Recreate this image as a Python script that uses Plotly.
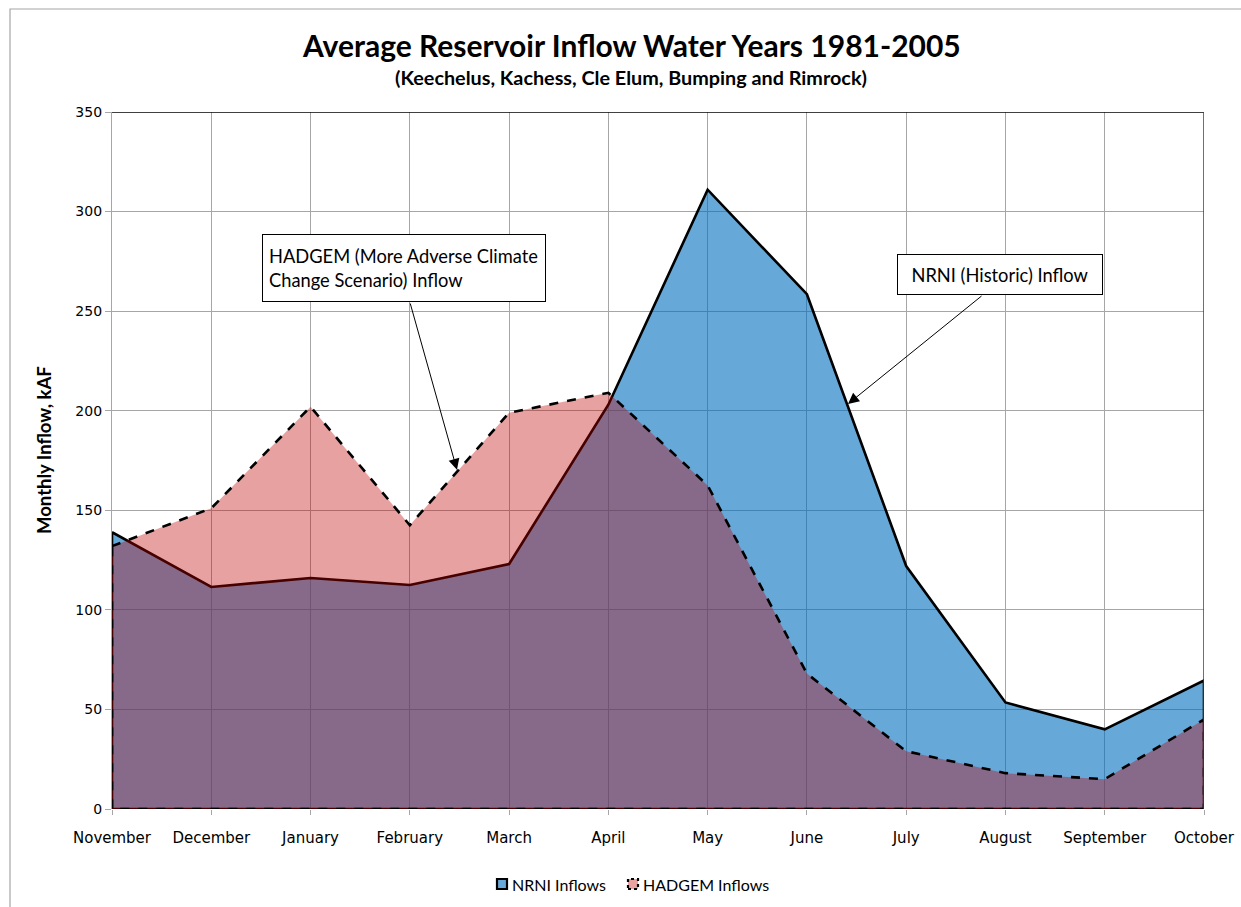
import plotly.graph_objects as go

# Monthly average inflow, water years 1981-2005 (kAF)
months = ["November", "December", "January", "February", "March", "April",
          "May", "June", "July", "August", "September", "October"]
nrni_inflows = [139, 111.5, 116, 112.5, 123, 203, 311, 258.5, 122, 53.5, 40, 64.5]
hadgem_inflows = [132, 151, 202, 142.5, 199, 209, 162.5, 68, 29, 18, 15, 45]

series_names = ["NRNI Inflows", "HADGEM Inflows"]
y_ticks = [0, 50, 100, 150, 200, 250, 300, 350]

TEXT_FONT = "Lato"
TICK_FONT = "DejaVu Sans"

NRNI_FILL = "rgba(0,112,192,0.6)"
HADGEM_FILL = "rgba(192,0,0,0.37)"

idx = list(range(len(months)))


def closed_area(values):
    # outline runs along the series, down the last month, back along zero
    xs = idx + [idx[-1], idx[0], idx[0]]
    ys = list(values) + [0, 0, values[0]]
    return xs, ys


fig = go.Figure()

nx, ny = closed_area(nrni_inflows)
fig.add_trace(go.Scatter(
    x=nx, y=ny, mode="lines", fill="toself", name=series_names[0],
    fillcolor=NRNI_FILL, line=dict(color="black", width=2.6),
    hoverinfo="skip", showlegend=False,
))

hx, hy = closed_area(hadgem_inflows)
fig.add_trace(go.Scatter(
    x=hx, y=hy, mode="lines", fill="toself", name=series_names[1],
    fillcolor=HADGEM_FILL, line=dict(color="black", width=2.6, dash="dash"),
    hoverinfo="skip", showlegend=False,
))

W, H = 1241, 907
L, R, T, B = 112, 37, 112, 98
pw, ph = W - L - R, H - T - B


def px_x(p):
    return (p - L) / pw


def px_y(p):
    return (H - B - p) / ph


annotations = [
    dict(text="<b>Average Reservoir Inflow Water Years 1981-2005</b>",
         xref="paper", yref="paper", x=px_x(631), y=px_y(45),
         xanchor="center", yanchor="middle", showarrow=False,
         font=dict(family=TEXT_FONT, size=30, color="black")),
    dict(text="<b>(Keechelus, Kachess, Cle Elum, Bumping and Rimrock)</b>",
         xref="paper", yref="paper", x=px_x(631), y=px_y(77),
         xanchor="center", yanchor="middle", showarrow=False,
         font=dict(family=TEXT_FONT, size=19.8, color="black")),
    dict(text="<b>Monthly Inflow, kAF</b>",
         xref="paper", yref="paper", x=px_x(44), y=px_y(450),
         xanchor="center", yanchor="middle", showarrow=False, textangle=-90,
         font=dict(family=TEXT_FONT, size=18.5, color="black")),
    # callout boxes
    dict(text="HADGEM (More Adverse Climate<br>Change Scenario) Inflow",
         xref="paper", yref="paper", x=px_x(404), y=px_y(268),
         xanchor="center", yanchor="middle", showarrow=False, align="left",
         width=270, height=54, borderpad=6, bordercolor="black", borderwidth=1,
         bgcolor="white",
         font=dict(family=TEXT_FONT, size=18.3, color="black")),
    dict(text="NRNI (Historic) Inflow",
         xref="paper", yref="paper", x=px_x(1000), y=px_y(274.5),
         xanchor="center", yanchor="middle", showarrow=False, align="center",
         width=192, height=27, borderpad=6, bordercolor="black", borderwidth=1,
         bgcolor="white",
         font=dict(family=TEXT_FONT, size=18.3, color="black")),
    # callout arrows
    dict(text="", x=3.475, y=170.3, ax=3.0, ay=254.6, xref="x", yref="y",
         axref="x", ayref="y", showarrow=True, arrowhead=2, arrowsize=2.2,
         arrowwidth=1, arrowcolor="black"),
    dict(text="", x=7.414, y=203.4, ax=8.774, ay=258.2, xref="x", yref="y",
         axref="x", ayref="y", showarrow=True, arrowhead=2, arrowsize=2.2,
         arrowwidth=1, arrowcolor="black"),
]

shapes = [
    # chart area frame
    dict(type="rect", xref="paper", yref="paper",
         x0=px_x(10), x1=px_x(1260), y0=px_y(930), y1=px_y(9),
         line=dict(color="#A6A6A6", width=1.2), layer="below"),
    # plot area top and right edges
    dict(type="line", xref="x", yref="y", x0=0, x1=11, y0=350, y1=350,
         line=dict(color="black", width=1.5)),
    dict(type="line", xref="x", yref="y", x0=11, x1=11, y0=0, y1=350,
         line=dict(color="#404040", width=1.5)),
]

# legend: small square keys followed by the series names
legend_keys = [
    dict(left=497, fill="rgb(102,169,217)", dash="solid"),
    dict(left=628, fill="rgb(232,162,162)", dash="dot"),
]
for key, name in zip(legend_keys, series_names):
    shapes.append(dict(
        type="rect", xref="paper", yref="paper",
        x0=px_x(key["left"]), x1=px_x(key["left"] + 10),
        y0=px_y(889), y1=px_y(879),
        fillcolor=key["fill"], line=dict(color="black", width=2.2, dash=key["dash"]),
    ))
    annotations.append(dict(
        text=name, xref="paper", yref="paper",
        x=px_x(key["left"] + 13), y=px_y(884),
        xanchor="left", yanchor="middle", showarrow=False,
        font=dict(family=TEXT_FONT, size=16, color="black"),
    ))

fig.update_layout(
    width=W, height=H,
    margin=dict(l=L, r=R, t=T, b=B, autoexpand=False),
    paper_bgcolor="white", plot_bgcolor="white",
    showlegend=False,
    annotations=annotations,
    shapes=shapes,
    xaxis=dict(range=[0, 11], tickmode="array", tickvals=idx, ticktext=months,
               showgrid=True, gridcolor="#A6A6A6", gridwidth=1.3,
               zeroline=False, showline=False, automargin=False,
               ticks="outside", ticklen=5, tickcolor="#A6A6A6",
               ticklabelstandoff=10,
               tickfont=dict(family=TICK_FONT, size=15, color="black")),
    yaxis=dict(range=[0, 350], tickmode="array", tickvals=y_ticks,
               showgrid=True, gridcolor="#A6A6A6", gridwidth=1.3,
               zeroline=False, showline=True, linecolor="#A6A6A6", linewidth=1.3,
               ticks="outside", ticklen=6, tickcolor="#A6A6A6", automargin=False,
               tickfont=dict(family=TICK_FONT, size=14, color="black")),
)

fig.write_html("out.html")
